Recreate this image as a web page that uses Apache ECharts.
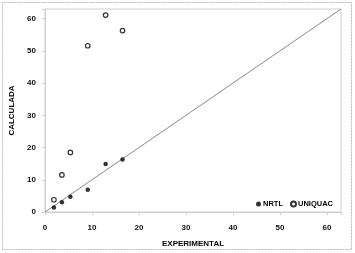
<!DOCTYPE html>
<html><head><meta charset="utf-8">
<script src="https://cdn.jsdelivr.net/npm/echarts@6/dist/echarts.min.js"></script>
<style>html,body{margin:0;padding:0;background:#fff}#c{width:355px;height:253px}</style>
</head><body><div id="c"></div>
<script>
const nrtlX = [1.9, 3.6, 5.4, 9.1, 12.9, 16.5];
const nrtlY = [1.4, 3.0, 4.7, 6.9, 14.9, 16.3];
const uniqX = [1.9, 3.6, 5.4, 9.1, 12.9, 16.5];
const uniqY = [3.8, 11.5, 18.5, 51.6, 61.1, 56.3];
const diagX = [0, 63];
const diagY = [0, 63];
const xTicks = [0, 10, 20, 30, 40, 50, 60];
const yTicks = [0, 10, 20, 30, 40, 50, 60];
const axisMax = 63;

const pair = (xs, ys) => xs.map((x, i) => [x, ys[i]]);
const font = 'Liberation Sans';
const chart = echarts.init(document.getElementById('c'));
chart.setOption({
  animation: false,
  backgroundColor: '#fff',
  graphic: [{
    type: 'rect', shape: {x: 2.5, y: 2.5, width: 349, height: 247},
    style: {fill: 'none', stroke: '#b8b8b8', lineWidth: 1, lineDash: [2, 1]}, z: -1
  }],
  grid: {left: 41, right: 14, top: 9, bottom: 41, show: true, borderColor: '#cfcfcf', borderWidth: 1},
  legend: {
    right: 17, top: 195, itemGap: 7, itemWidth: 5, itemHeight: 5,
    textStyle: {fontFamily: font, fontWeight: 'bold', fontSize: 7.5, color: '#000', padding: [0,0,0,-3]},
    data: [{name: 'NRTL', icon: 'circle'}, {name: 'UNIQUAC', icon: 'circle'}]
  },
  xAxis: {
    type: 'value', min: 0, max: axisMax, interval: 10,
    name: 'EXPERIMENTAL', nameLocation: 'middle', nameGap: 28,
    nameTextStyle: {fontFamily: font, fontWeight: 'bold', fontSize: 8, color: '#000'},
    axisLine: {show: true, lineStyle: {color: '#cfcfcf'}},
    axisTick: {show: true, length: 3, lineStyle: {color: '#cfcfcf'}},
    splitLine: {show: false},
    axisLabel: {fontFamily: font, fontWeight: 'bold', fontSize: 8, color: '#111', margin: 12,
      formatter: v => xTicks.includes(v) ? String(v) : ''}
  },
  yAxis: {
    type: 'value', min: 0, max: axisMax, interval: 10,
    name: 'CALCULADA', nameLocation: 'middle', nameGap: 29, nameRotate: 90,
    nameTextStyle: {fontFamily: font, fontWeight: 'bold', fontSize: 8, color: '#000'},
    axisLine: {show: true, lineStyle: {color: '#cfcfcf'}},
    axisTick: {show: true, length: 3, lineStyle: {color: '#cfcfcf'}},
    splitLine: {show: false},
    axisLabel: {fontFamily: font, fontWeight: 'bold', fontSize: 8, color: '#111', margin: 9,
      formatter: v => yTicks.includes(v) ? String(v) : ''}
  },
  series: [
    {type: 'line', data: pair(diagX, diagY), symbol: 'none', silent: true,
     lineStyle: {color: '#8a8a8a', width: 1}, z: 1},
    {name: 'NRTL', type: 'scatter', data: pair(nrtlX, nrtlY), symbol: 'circle', symbolSize: 4.5,
     itemStyle: {color: '#000'}, z: 3},
    {name: 'UNIQUAC', type: 'scatter', data: pair(uniqX, uniqY), symbol: 'circle', symbolSize: 4.5,
     itemStyle: {color: '#fff', borderColor: '#000', borderWidth: 1.2}, z: 3}
  ]
});
</script></body></html>
